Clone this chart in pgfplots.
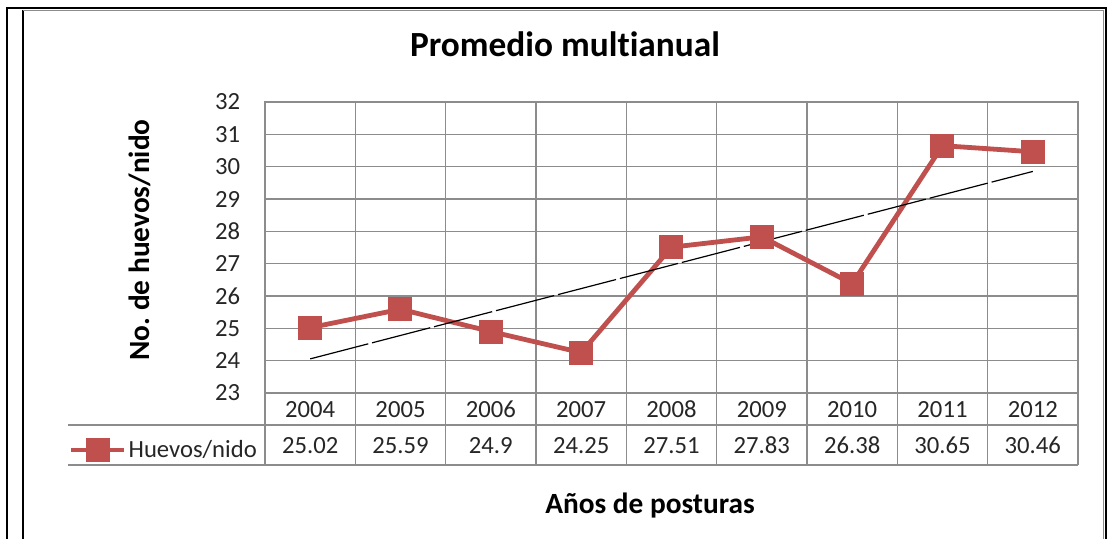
\documentclass[border=0pt]{standalone}
\usepackage{pgfplots}
\pgfplotsset{compat=1.18}
\usepackage{fontspec}
\setmainfont{Carlito}[Ligatures=NoCommon]
\frenchspacing
\definecolor{exred}{RGB}{192,80,77}
\definecolor{gridg}{RGB}{140,140,140}
\newcommand{\tickfont}{\fontsize{18.5}{22}\selectfont}
\begin{document}
\begin{tikzpicture}
\def\u{0.75pt}
\path[use as bounding box, fill=white] (0,0) rectangle ({1108*\u},{539*\u});
% outer frame
\draw[line width=2.2pt] ({7*\u},0) -- ({7*\u},{531*\u}) -- ({1106*\u},{531*\u}) -- ({1106*\u},0);
\draw[line width=1.6pt] ({23*\u},{529*\u}) -- ({23*\u},0);
\draw[gridg, line width=0.6pt] ({23*\u},{529*\u}) -- ({1103*\u},{529*\u}) -- ({1103*\u},0);
\begin{axis}[
  at={({265*\u},{(539-393)*\u})}, anchor=south west,
  scale only axis, width={813*\u}, height={291*\u},
  xmin=-0.5, xmax=8.5, ymin=23, ymax=32,
  ytick={23,...,32},
  xtick={0,...,8},
  xticklabels={2004,2005,2006,2007,2008,2009,2010,2011,2012},
  extra x ticks={0,...,8},
  extra x tick labels={25.02,25.59,24.9,24.25,27.51,27.83,26.38,30.65,30.46},
  extra x tick style={grid=none, major tick length=0pt,
     xticklabel style={yshift={-27pt}}},
  minor xtick={-0.5,0.5,...,8.5},
  xminorgrids=true, ymajorgrids=true, xmajorgrids=false,
  grid style={gridg, line width=0.8pt},
  minor grid style={gridg, line width=0.8pt},
  axis line style={gridg, line width=0.8pt},
  major tick length=0pt, minor tick length=0pt,
  tick style={draw=none},
  tick label style={font=\tickfont, text=black!85},
  /pgf/number format/assume math mode=true,
  xticklabel style={anchor=base, yshift={-18.5pt}},
  yticklabel style={anchor=center, xshift={-28pt}},
  clip=false,
  title={\fontsize{26.5}{30}\selectfont\bfseries Promedio multianual},
  title style={at={(0.369,1.172)}, anchor=center},
  ylabel={\fontsize{22}{26}\selectfont\bfseries No.\ de huevos/nido},
  ylabel style={at={(axis description cs:-0.1538,0.526)}, anchor=center},
  xlabel={\fontsize{22}{26}\selectfont\bfseries Años de posturas},
  xlabel style={at={(axis description cs:0.4736,-0.385)}, anchor=center},
  legend style={at={(-0.242,-0.196)}, anchor=west, draw=none, fill=none,
     inner sep=0pt, font=\tickfont, text=black!85,
     nodes={inner sep=1.5pt}},
  legend image code/.code={\draw[mark repeat=2,mark phase=2,#1] plot coordinates {(0pt,0pt) (20pt,0pt) (40pt,0pt)};},
]
\addplot[exred, line width=3.6pt, mark=square*, mark size=7.2pt, mark options={solid}]
  coordinates {(0,25.02) (1,25.59) (2,24.9) (3,24.25) (4,27.51) (5,27.83) (6,26.38) (7,30.65) (8,30.46)};
\addlegendentry{Huevos/nido}
\addplot[black, line width=0.9pt, dash pattern=on 45pt off 3pt, forget plot]
  coordinates {(0,24.055) (8,29.853)};
\end{axis}
% data table lines
\foreach \i in {0,...,9} {
  \draw[gridg, line width=0.8pt] ({(265+\i*813/9)*\u},{(539-393)*\u}) -- ({(265+\i*813/9)*\u},{(539-465)*\u});
}
\draw[gridg, line width=0.8pt] ({68*\u},{(539-425)*\u}) -- ({1078*\u},{(539-425)*\u});
\draw[gridg, line width=0.8pt] ({68*\u},{(539-465)*\u}) -- ({1078*\u},{(539-465)*\u});
\end{tikzpicture}
\end{document}
